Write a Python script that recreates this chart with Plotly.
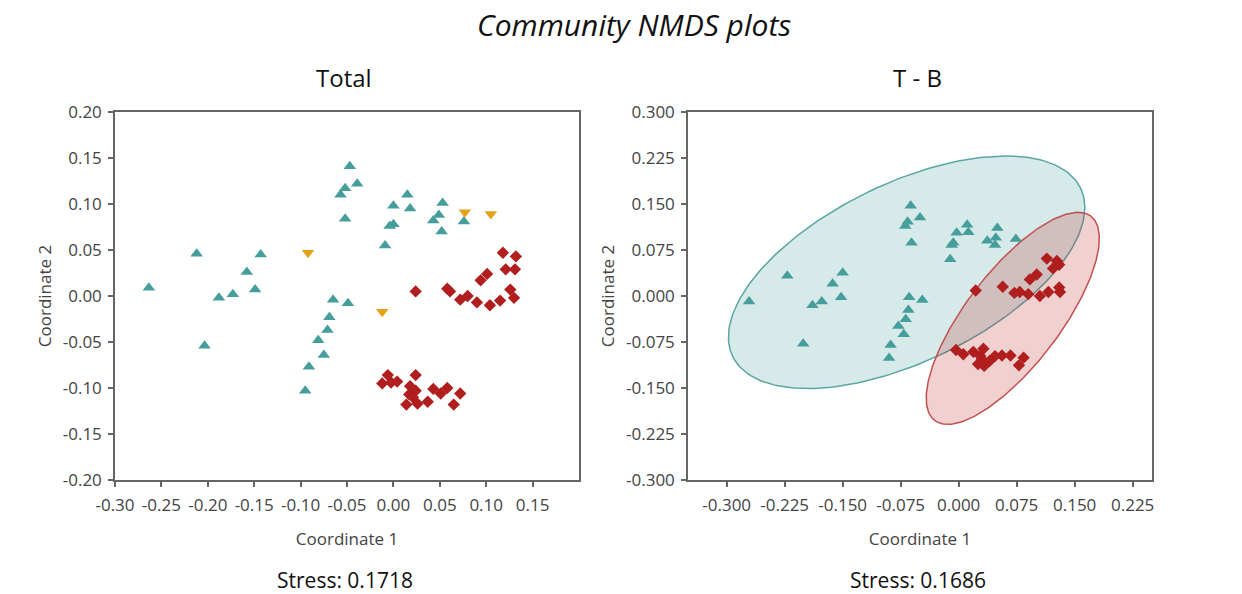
import numpy as np
import plotly.graph_objects as go

# ---------------- data: Total ----------------
total_t_x = [-0.2635, -0.212, -0.2035, -0.188, -0.173, -0.158, -0.149, -0.143,
             -0.095, -0.091, -0.075, -0.081, -0.071, -0.069, -0.065, -0.049,
             -0.052, -0.057, -0.052, -0.047, -0.039, -0.009, -0.004, 0.000,
             0.000, 0.015, 0.018, 0.043, 0.049, 0.053, 0.052, 0.076]
total_t_y = [0.009, 0.046, -0.054, -0.002, 0.002, 0.026, 0.007, 0.045,
             -0.103, -0.077, -0.064, -0.048, -0.037, -0.023, -0.004, -0.008,
             0.084, 0.110, 0.117, 0.141, 0.122, 0.055, 0.076, 0.078,
             0.098, 0.110, 0.095, 0.082, 0.088, 0.101, 0.070, 0.081]
total_o_x = [-0.092, -0.012, 0.077, 0.105]
total_o_y = [0.047, -0.017, 0.091, 0.089]
total_b_x = [-0.012, -0.006, -0.0025, 0.004, 0.018, 0.024, 0.017, 0.024, 0.014,
             0.026, 0.037, 0.043, 0.051, 0.058, 0.065, 0.072, 0.021,
             0.024, 0.058, 0.061, 0.072, 0.080, 0.090, 0.104, 0.115, 0.130,
             0.126, 0.094, 0.101, 0.121, 0.131, 0.118, 0.132]
total_b_y = [-0.095, -0.086, -0.094, -0.093, -0.098, -0.086, -0.107, -0.103, -0.118,
             -0.117, -0.115, -0.101, -0.106, -0.100, -0.118, -0.106, -0.110,
             0.005, 0.008, 0.005, -0.004, 0.000, -0.007, -0.010, -0.005, -0.002,
             0.007, 0.017, 0.024, 0.029, 0.029, 0.047, 0.043]

# ---------------- data: T - B ----------------
tb_t_x = [-0.271, -0.2216, -0.201, -0.189, -0.177, -0.163, -0.150, -0.152,
          -0.090, -0.088, -0.078, -0.071, -0.0685, -0.065, -0.064, -0.047,
          -0.061, -0.069, -0.066, -0.062, -0.050, -0.011, -0.009, -0.007,
          -0.0026, 0.011, 0.0125, 0.037, 0.047, 0.050, 0.048, 0.074]
tb_t_y = [-0.009, 0.033, -0.078, -0.015, -0.009, 0.020, 0.038, -0.002,
          -0.101, -0.080, -0.049, -0.0625, -0.038, -0.023, -0.002, -0.0065,
          0.087, 0.114, 0.121, 0.147, 0.128, 0.060, 0.083, 0.087,
          0.103, 0.116, 0.104, 0.090, 0.083, 0.111, 0.095, 0.093]
tb_b_x = [0.022, 0.057, 0.072, 0.079, 0.090, 0.105, 0.116, 0.130, 0.131,
          0.092, 0.101, 0.114, 0.127, 0.122, 0.130,
          -0.0034, 0.006, 0.019, 0.028, 0.032, 0.025, 0.033, 0.040, 0.047,
          0.056, 0.067, 0.078, 0.084, 0.030]
tb_b_y = [0.009, 0.015, 0.005, 0.0065, 0.003, 0.000, 0.0065, 0.014, 0.0065,
          0.027, 0.035, 0.061, 0.057, 0.045, 0.051,
          -0.088, -0.095, -0.091, -0.098, -0.086, -0.111, -0.114, -0.106, -0.098,
          -0.097, -0.097, -0.113, -0.1005, -0.103]

# ---------------- axes ticks ----------------
left_x_ticks = [-0.30, -0.25, -0.20, -0.15, -0.10, -0.05, 0.00, 0.05, 0.10, 0.15]
left_x_text = ["-0.30", "-0.25", "-0.20", "-0.15", "-0.10", "-0.05", "0.00", "0.05", "0.10", "0.15"]
left_y_ticks = [-0.20, -0.15, -0.10, -0.05, 0.00, 0.05, 0.10, 0.15, 0.20]
left_y_text = ["-0.20", "-0.15", "-0.10", "-0.05", "0.00", "0.05", "0.10", "0.15", "0.20"]
right_x_ticks = [-0.300, -0.225, -0.150, -0.075, 0.000, 0.075, 0.150, 0.225]
right_x_text = ["-0.300", "-0.225", "-0.150", "-0.075", "0.000", "0.075", "0.150", "0.225"]
right_y_ticks = [-0.300, -0.225, -0.150, -0.075, 0.000, 0.075, 0.150, 0.225, 0.300]
right_y_text = ["-0.300", "-0.225", "-0.150", "-0.075", "0.000", "0.075", "0.150", "0.225", "0.300"]

TEAL = "#469e9c"
RED = "#b01e1e"
ORANGE = "#e3a21a"


def ellipse(xs, ys, p=0.95, n=240):
    """95% prediction ellipse (F-distribution based)."""
    x = np.asarray(xs); y = np.asarray(ys)
    m = len(x)
    d2 = m - 2
    fq = (d2 / 2.0) * ((1 - p) ** (-2.0 / d2) - 1)  # F(2, m-2) quantile, closed form
    k2 = 2.0 * (m - 1) * (m + 1) / (m * (m - 2)) * fq
    cov = np.cov(x, y)
    vals, vecs = np.linalg.eigh(cov)
    t = np.linspace(0, 2 * np.pi, n)
    circ = np.vstack([np.cos(t), np.sin(t)]) * np.sqrt(k2 * vals)[:, None]
    pts = vecs @ circ
    return pts[0] + x.mean(), pts[1] + y.mean()


fig = go.Figure()

ex, ey = ellipse(tb_t_x, tb_t_y)
fig.add_trace(go.Scatter(x=ex, y=ey, mode="lines", fill="toself",
                         fillcolor="rgba(70,158,156,0.22)",
                         line=dict(color="#5aa6a4", width=1.5), xaxis="x2", yaxis="y2",
                         hoverinfo="skip", showlegend=False))
ex, ey = ellipse(tb_b_x, tb_b_y)
fig.add_trace(go.Scatter(x=ex, y=ey, mode="lines", fill="toself",
                         fillcolor="rgba(190,40,40,0.22)",
                         line=dict(color="#c2504e", width=1.5), xaxis="x2", yaxis="y2",
                         hoverinfo="skip", showlegend=False))

tri = dict(symbol="triangle-up", size=11, color=TEAL)
dia = dict(symbol="diamond", size=9.5, color=RED)
tdn = dict(symbol="triangle-down", size=11, color=ORANGE)

fig.add_trace(go.Scatter(x=total_t_x, y=total_t_y, mode="markers", marker=tri, showlegend=False))
fig.add_trace(go.Scatter(x=total_o_x, y=total_o_y, mode="markers", marker=tdn, showlegend=False))
fig.add_trace(go.Scatter(x=total_b_x, y=total_b_y, mode="markers", marker=dia, showlegend=False))
fig.add_trace(go.Scatter(x=tb_t_x, y=tb_t_y, mode="markers", marker=tri, xaxis="x2", yaxis="y2", showlegend=False))
fig.add_trace(go.Scatter(x=tb_b_x, y=tb_b_y, mode="markers", marker=dia, xaxis="x2", yaxis="y2", showlegend=False))

W, H = 1242, 594
y_dom = [1 - 480 / H, 1 - 112 / H]
axis_common = dict(showgrid=False, zeroline=False, showline=True, linecolor="#666666",
                   linewidth=1.5, mirror=True, ticks="outside", ticklen=5, tickcolor="#666666",
                   tickwidth=1.5, automargin=False,
                   tickfont=dict(family="Open Sans", size=17, color="#444444"))
title_font = dict(family="Open Sans", size=17, color="#444444")
xaxis_extra = dict(ticklabelstandoff=4,
                   title=dict(text="Coordinate 1", font=title_font, standoff=18))
yaxis_extra = dict(ticklabelstandoff=3,
                   title=dict(text="Coordinate 2", font=title_font, standoff=7))

fig.update_layout(
    width=W, height=H, margin=dict(l=0, r=0, t=0, b=0, autoexpand=False),
    paper_bgcolor="white", plot_bgcolor="white",
    xaxis=dict(domain=[115 / W, 579 / W], range=[-0.30, 0.20], tickvals=left_x_ticks,
               ticktext=left_x_text, anchor="y", **xaxis_extra, **axis_common),
    yaxis=dict(domain=y_dom, range=[-0.20, 0.20], tickvals=left_y_ticks, ticktext=left_y_text,
               anchor="x", **yaxis_extra, **axis_common),
    xaxis2=dict(domain=[688 / W, 1152 / W], range=[-0.35, 0.25], tickvals=right_x_ticks,
                ticktext=right_x_text, anchor="y2", **xaxis_extra, **axis_common),
    yaxis2=dict(domain=y_dom, range=[-0.30, 0.30], tickvals=right_y_ticks, ticktext=right_y_text,
                anchor="x2", **yaxis_extra, **axis_common),
)

ann_font = "Open Sans"


def label(text, xpx, ypx, size):
    fig.add_annotation(text=text, x=xpx / W, y=1 - ypx / H, xref="paper", yref="paper",
                       xanchor="center", yanchor="middle", showarrow=False,
                       font=dict(family=ann_font, size=size, color="#111111"))


label("<i>Community NMDS plots</i>", 634, 25, 30)
label("Total", 344, 77, 24)
label("T - B", 918, 77, 24)
label("Stress: 0.1718", 345, 580, 21)
label("Stress: 0.1686", 918, 580, 21)

fig.write_html("out.html")
